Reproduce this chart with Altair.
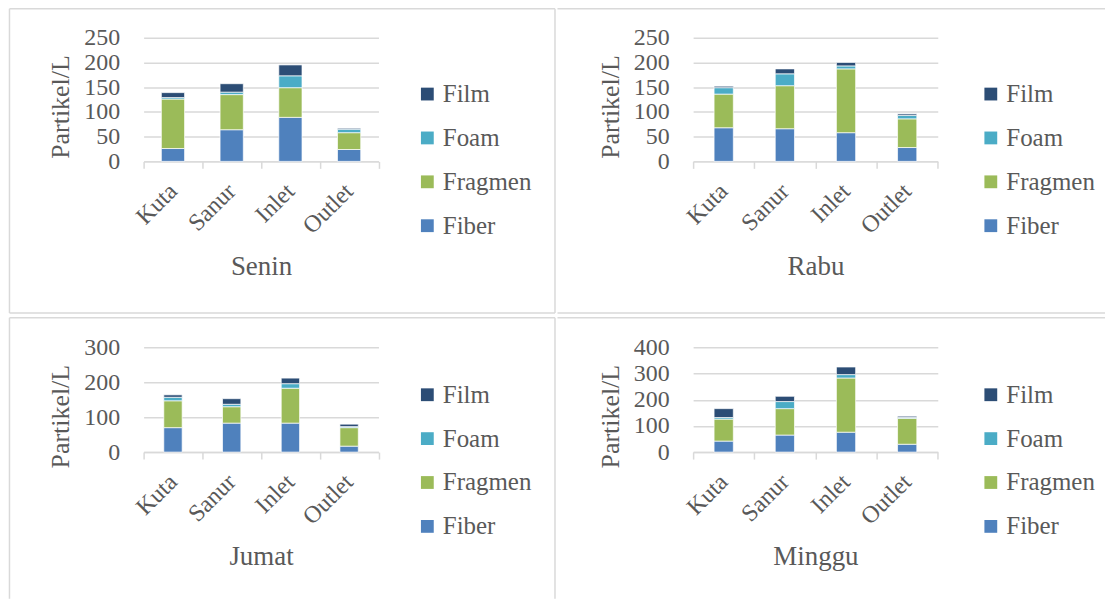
import altair as alt
import pandas as pd

# Sampling sites and microplastic shape categories
sites = ["Kuta", "Sanur", "Inlet", "Outlet"]
shapes = ["Fiber", "Fragmen", "Foam", "Film"]
shape_colors = {"Fiber": "#4F81BD", "Fragmen": "#9BBB59", "Foam": "#4BACC6", "Film": "#2C4D75"}

# Particles per litre at each site, one list per shape, for each sampling day
senin_fiber = [26, 64, 89, 24]
senin_fragmen = [100, 71, 60, 34]
senin_foam = [3, 5, 24, 7]
senin_film = [10, 17, 22, 2]

rabu_fiber = [68, 66, 58, 28]
rabu_fragmen = [68, 87, 129, 58]
rabu_foam = [13, 24, 6, 7]
rabu_film = [3, 10, 7, 3]

jumat_fiber = [70, 83, 83, 17]
jumat_fragmen = [77, 47, 100, 53]
jumat_foam = [10, 7, 13, 3]
jumat_film = [7, 16, 16, 7]

minggu_fiber = [42, 65, 76, 30]
minggu_fragmen = [84, 101, 207, 99]
minggu_foam = [6, 27, 13, 3]
minggu_film = [34, 20, 29, 5]

FONT = "Liberation Serif"
TEXT = "#595959"
LINE = "#D9D9D9"
ONE_ROW = alt.InlineData(values=[{}])


def table(fiber, fragmen, foam, film):
    rows = []
    for k, series in enumerate([fiber, fragmen, foam, film]):
        for site, v in zip(sites, series):
            rows.append({"site": site, "shape": shapes[k], "rank": k, "value": v})
    return pd.DataFrame(rows)


def hline(x1, x2, y):
    return alt.Chart(ONE_ROW).mark_rule(color=LINE, strokeWidth=1.5).encode(
        x=alt.value(x1), x2=alt.value(x2), y=alt.value(y))


def vline(x, y1, y2):
    return alt.Chart(ONE_ROW).mark_rule(color=LINE, strokeWidth=1.5).encode(
        x=alt.value(x), y=alt.value(y1), y2=alt.value(y2))


def panel(day, df, y_max, y_step, width, height, bar_size, legend_x, legend_y, frame):
    legend_order = ["Film", "Foam", "Fragmen", "Fiber"]
    bars = alt.Chart(df).mark_bar(size=bar_size, stroke="white", strokeWidth=0.7).encode(
        x=alt.X("site:N", sort=sites, scale=alt.Scale(paddingInner=0, paddingOuter=0),
                axis=alt.Axis(title=day, labelAngle=-45, labelAlign="right", labelBaseline="middle",
                              labelFontSize=24, labelPadding=19, tickBand="extent", tickSize=7,
                              tickColor=LINE, tickWidth=1.5, domainColor=LINE, domainWidth=1.5,
                              grid=False, titleFontSize=27, titleY=105, titleBaseline="middle")),
        y=alt.Y("value:Q", stack="zero",
                scale=alt.Scale(domain=[0, y_max], nice=False),
                axis=alt.Axis(title="Partikel/L", values=list(range(0, y_max + 1, y_step)),
                              domain=False, ticks=False, labelPadding=24, labelFontSize=24,
                              grid=True, gridColor=LINE, gridWidth=1.5,
                              titleFontSize=26, titlePadding=10, titleY=69)),
        color=alt.Color("shape:N",
                        scale=alt.Scale(domain=legend_order, range=[shape_colors[s] for s in legend_order]),
                        legend=alt.Legend(orient="none", legendX=legend_x, legendY=legend_y, title=None,
                                          symbolType="square", symbolSize=165, symbolStrokeWidth=0,
                                          labelFont=FONT, labelColor=TEXT,
                                          labelFontSize=25, labelOffset=3, rowPadding=18, padding=0)),
        order=alt.Order("rank:Q", sort="ascending"),
    )
    layers = [bars] + frame
    return alt.layer(*layers).properties(width=width, height=height)


# Frame segments, in pixels relative to each plot area
left_frame_top = [vline(-134.5, -29, 276), hline(-134.5, 412.5, -29), vline(412.5, -29, 276), hline(-134.5, 412.5, 276)]
right_frame_top = [hline(-136, 413, -29), hline(-136, 413, 276)]
left_frame_bottom = [vline(-134.5, -29.7, 252), hline(-134.5, 412.5, -29.7), vline(412.5, -29.7, 252)]
right_frame_bottom = [hline(-136, 413, -29.7)]

p1 = panel("Senin", table(senin_fiber, senin_fragmen, senin_foam, senin_film),
           250, 50, 235.5, 124, 23.3, 272, 44, left_frame_top)
p2 = panel("Rabu", table(rabu_fiber, rabu_fragmen, rabu_foam, rabu_film),
           250, 50, 245.3, 124, 19.3, 286, 44, right_frame_top)
p3 = panel("Jumat", table(jumat_fiber, jumat_fragmen, jumat_foam, jumat_film),
           300, 100, 235.5, 105, 18.4, 272, 35, left_frame_bottom)
p4 = panel("Minggu", table(minggu_fiber, minggu_fragmen, minggu_foam, minggu_film),
           400, 100, 245.3, 105, 19.3, 286, 35, right_frame_bottom)

chart = alt.concat(p1, p2, p3, p4, columns=2, spacing=alt.RowColnumber(row=2.5, column=0)).resolve_scale(
    x="independent", y="independent", color="independent"
).properties(
    padding={"left": 8, "top": 7, "right": 0, "bottom": 0},
    background="white",
).configure_view(stroke=None).configure_axis(
    labelFont=FONT, titleFont=FONT, labelColor=TEXT, titleColor=TEXT, titleFontWeight="normal"
).configure_legend(
    labelFont=FONT, labelColor=TEXT
)

chart.save("out.html", embed_options={"renderer": "svg", "actions": False})
